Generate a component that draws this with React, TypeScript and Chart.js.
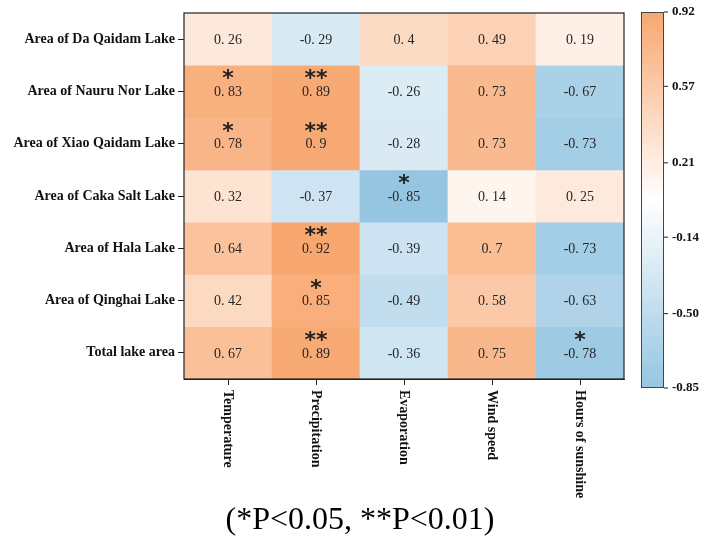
import React, { useEffect, useRef } from "react";
import { Chart, registerables } from "chart.js";

Chart.register(...registerables);

const rowLabels = [
  "Area of Da Qaidam Lake",
  "Area of Nauru Nor Lake",
  "Area of Xiao Qaidam Lake",
  "Area of Caka Salt Lake",
  "Area of Hala Lake",
  "Area of Qinghai Lake",
  "Total lake area",
];

const colLabels = ["Temperature", "Precipitation", "Evaporation", "Wind speed", "Hours of sunshine"];

const rowDaQaidam = [0.26, -0.29, 0.4, 0.49, 0.19];
const rowNauruNor = [0.83, 0.89, -0.26, 0.73, -0.67];
const rowXiaoQaidam = [0.78, 0.9, -0.28, 0.73, -0.73];
const rowCakaSalt = [0.32, -0.37, -0.85, 0.14, 0.25];
const rowHala = [0.64, 0.92, -0.39, 0.7, -0.73];
const rowQinghai = [0.42, 0.85, -0.49, 0.58, -0.63];
const rowTotal = [0.67, 0.89, -0.36, 0.75, -0.78];

const sigDaQaidam = ["", "", "", "", ""];
const sigNauruNor = ["*", "**", "", "", ""];
const sigXiaoQaidam = ["*", "**", "", "", ""];
const sigCakaSalt = ["", "", "*", "", ""];
const sigHala = ["", "**", "", "", ""];
const sigQinghai = ["", "*", "", "", ""];
const sigTotal = ["", "**", "", "", "*"];

const values = [rowDaQaidam, rowNauruNor, rowXiaoQaidam, rowCakaSalt, rowHala, rowQinghai, rowTotal];
const sigs = [sigDaQaidam, sigNauruNor, sigXiaoQaidam, sigCakaSalt, sigHala, sigQinghai, sigTotal];

const colorbarTicks = [0.92, 0.57, 0.21, -0.14, -0.5, -0.85];
const colorbarTickLabels = ["0.92", "0.57", "0.21", "-0.14", "-0.50", "-0.85"];
const vMin = -0.85;
const vMax = 0.92;
const footnote = "(*P<0.05, **P<0.01)";

const SERIF = "'Liberation Serif', 'Times New Roman', serif";

const HIGH = [248, 167, 112];
const LOW = [150, 197, 226];
const MID = [255, 255, 255];

function colorFor(v: number): string {
  const mid = (vMin + vMax) / 2;
  let c: number[];
  if (v >= mid) {
    const t = Math.min(1, (v - mid) / (vMax - mid));
    c = MID.map((m, i) => m + (HIGH[i] - m) * t);
  } else {
    const t = Math.min(1, (mid - v) / (mid - vMin));
    c = MID.map((m, i) => m + (LOW[i] - m) * t);
  }
  return `rgb(${Math.round(c[0])},${Math.round(c[1])},${Math.round(c[2])})`;
}

function fmt(v: number): string {
  return String(v).replace(".", ". ");
}

const decorPlugin = {
  id: "decor",
  afterDatasetsDraw(chart: any) {
    const ctx = chart.ctx;
    ctx.save();
    chart.data.datasets.forEach((ds: any, di: number) => {
      const meta = chart.getDatasetMeta(di);
      meta.data.forEach((el: any, ci: number) => {
        const yScale = chart.scales.y;
        const cy = yScale.getPixelForValue(di);
        const cx = el.x;
        ctx.fillStyle = "#262626";
        ctx.font = `14px ${SERIF}`;
        ctx.textAlign = "center";
        ctx.textBaseline = "middle";
        ctx.fillText(fmt(values[di][ci]), cx, cy + 1);
        const s = sigs[di][ci];
        if (s) {
          ctx.font = `bold 22px 'DejaVu Sans', sans-serif`;
          ctx.textBaseline = "alphabetic";
          ctx.fillStyle = "#222";
          ctx.fillText(s, cx, cy - 6);
        }
      });
    });
    ctx.restore();
  },
  afterDraw(chart: any) {
    const ctx = chart.ctx;
    const a = chart.chartArea;
    ctx.save();
    // plot border
    ctx.strokeStyle = "#222";
    ctx.lineWidth = 1.2;
    ctx.strokeRect(a.left, a.top, a.right - a.left, a.bottom - a.top);

    // x labels rotated clockwise
    const xs = chart.scales.x;
    ctx.fillStyle = "#111";
    ctx.font = `bold 14px ${SERIF}`;
    ctx.textAlign = "left";
    ctx.textBaseline = "middle";
    colLabels.forEach((lab, i) => {
      const x = xs.getPixelForTick(i);
      ctx.save();
      ctx.translate(x, a.bottom + 11);
      ctx.rotate(Math.PI / 2);
      ctx.fillText(lab, 0, 0);
      ctx.restore();
    });

    // colorbar
    const cbL = a.right + 17;
    const cbR = cbL + 23;
    const cbT = a.top - 1;
    const cbB = a.bottom + 9;
    const grad = ctx.createLinearGradient(0, cbT, 0, cbB);
    const n = 20;
    for (let k = 0; k <= n; k++) {
      const v = vMax - ((vMax - vMin) * k) / n;
      grad.addColorStop(k / n, colorFor(v));
    }
    ctx.fillStyle = grad;
    ctx.fillRect(cbL, cbT, cbR - cbL, cbB - cbT);
    ctx.strokeStyle = "#444";
    ctx.lineWidth = 1;
    ctx.strokeRect(cbL + 0.5, cbT + 0.5, cbR - cbL - 1, cbB - cbT - 1);
    ctx.fillStyle = "#111";
    ctx.font = `bold 13px ${SERIF}`;
    ctx.textAlign = "left";
    ctx.textBaseline = "middle";
    colorbarTicks.forEach((v, i) => {
      const y = cbT + ((vMax - v) / (vMax - vMin)) * (cbB - cbT);
      ctx.beginPath();
      ctx.moveTo(cbR, y);
      ctx.lineTo(cbR + 4, y);
      ctx.strokeStyle = "#222";
      ctx.stroke();
      ctx.fillText(colorbarTickLabels[i], cbR + 8, y);
    });

    // footnote
    ctx.fillStyle = "#000";
    ctx.font = `32px ${SERIF}`;
    ctx.textAlign = "center";
    ctx.textBaseline = "alphabetic";
    ctx.fillText(footnote, 360, 529);
    ctx.restore();
  },
};

export default function App() {
  const ref = useRef<HTMLCanvasElement | null>(null);
  useEffect(() => {
    document.body.style.margin = "0";
    const canvas = ref.current;
    if (!canvas) return;
    const datasets = values.map((row, ri) => ({
      label: rowLabels[ri],
      data: row.map(() => [ri - 0.5, ri + 0.5]),
      backgroundColor: row.map((v) => colorFor(v)),
      borderWidth: 0,
      barPercentage: 1,
      categoryPercentage: 1,
      grouped: false,
    }));
    const chart = new Chart(canvas, {
      type: "bar",
      data: { labels: colLabels, datasets: datasets as any },
      options: {
        animation: false,
        responsive: true,
        maintainAspectRatio: false,
        events: [],
        layout: { padding: { left: 0, right: 79, top: 13, bottom: 0 } },
        plugins: { legend: { display: false }, tooltip: { enabled: false }, title: { display: false } },
        scales: {
          x: {
            type: "category",
            offset: true,
            grid: { display: true, offset: false, drawOnChartArea: false, drawTicks: true, tickLength: 6, color: "#222" },
            border: { display: true, color: "#222" },
            ticks: { display: false },
            afterFit: (s: any) => {
              s.height = 158;
            },
          },
          y: {
            type: "linear",
            min: -0.5,
            max: 6.5,
            reverse: true,
            grid: { display: true, drawOnChartArea: false, drawTicks: true, tickLength: 6, color: "#222" },
            border: { display: true, color: "#222" },
            afterBuildTicks: (s: any) => {
              s.ticks = rowLabels.map((_, i) => ({ value: i }));
            },
            ticks: {
              autoSkip: false,
              padding: 3,
              color: "#111",
              font: { family: SERIF, size: 14, weight: "bold" },
              callback: (v: any) => rowLabels[Number(v)] ?? "",
            },
            afterFit: (s: any) => {
              s.width = 184;
            },
          },
        },
      } as any,
      plugins: [decorPlugin],
    });
    return () => chart.destroy();
  }, []);
  return (
    <div style={{ position: "fixed", left: 0, top: 0, width: 703, height: 537, background: "#fff" }}>
      <canvas ref={ref} />
    </div>
  );
}
